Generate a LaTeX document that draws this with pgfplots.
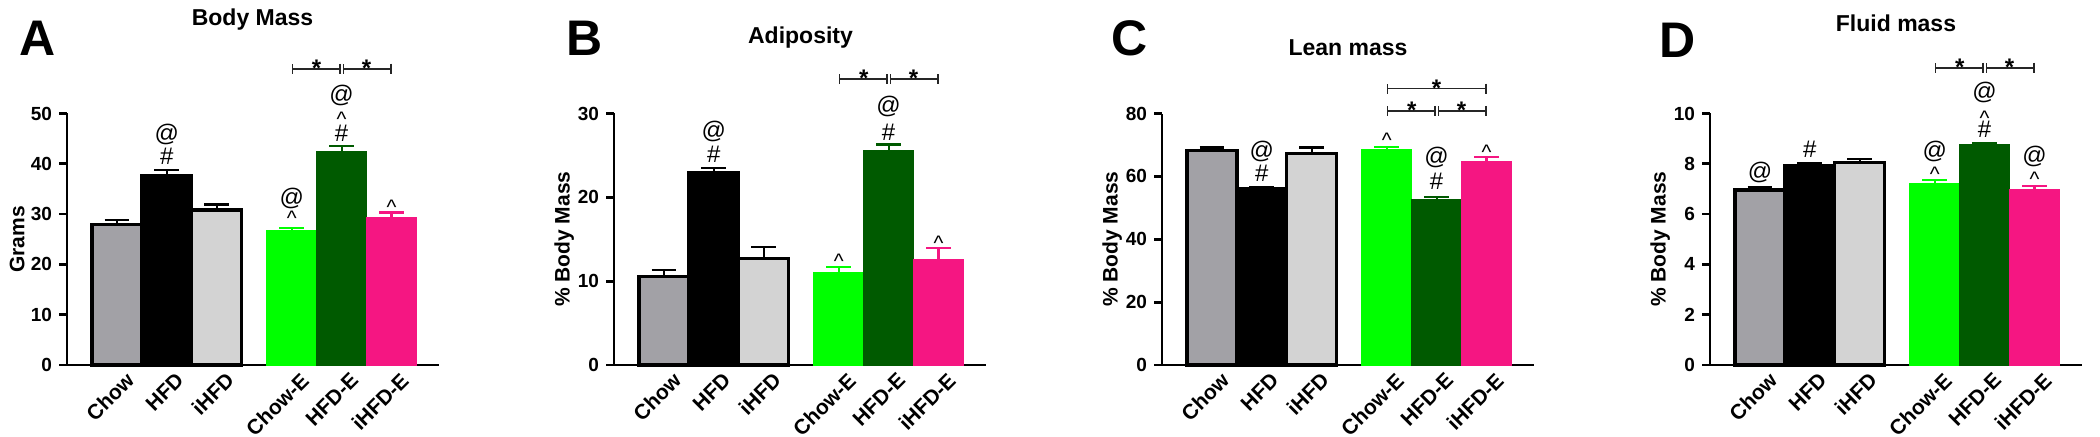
\documentclass[border=0pt]{standalone}
\usepackage{fontspec}
\setmainfont{Liberation Sans}
\usepackage{pgfplots}
\pgfplotsset{compat=1.18}
\usetikzlibrary{arrows.meta}
\definecolor{cgray}{RGB}{162,161,166}
\definecolor{clight}{RGB}{211,211,211}
\definecolor{cgreen}{RGB}{0,255,0}
\definecolor{cdark}{RGB}{0,90,0}
\definecolor{cpink}{RGB}{245,22,130}

\newcommand{\obar}[4]{\addplot[fill=#4, draw=black, line width=1.6pt,
  error bars/.cd, y dir=plus, y explicit,
  error bar style={line width=1.1pt, draw=black},
  error mark options={rotate=90, mark size=6.2pt, line width=1.1pt, draw=black}]
  coordinates {(#1,#2) +- (0,#3)};}
\newcommand{\cbar}[4]{\addplot[fill=#4, draw=#4, line width=0.3pt,
  error bars/.cd, y dir=plus, y explicit,
  error bar style={line width=1.1pt, draw=#4},
  error mark options={rotate=90, mark size=6.2pt, line width=1.1pt, draw=#4}]
  coordinates {(#1,#2) +- (0,#3)};}
\newcommand{\ann}[3]{\node[font=\fontsize{12}{12}\selectfont, inner sep=0pt] at (axis cs:#1,#2) {#3};}
\newcommand{\crt}[2]{\node[font=\fontsize{10.5}{10.5}\selectfont, inner sep=0pt, anchor=north] at (axis cs:#1,#2) {\textasciicircum};}
\newcommand{\sig}[4]{\draw[black!85, line width=0.8pt, {Bar[width=5pt]}-{Bar[width=5pt]}] (axis cs:#1,#3) -- (axis cs:#2,#3);
  \node[anchor=north, inner sep=0pt, yshift=4.6pt, font=\bfseries\fontsize{12}{12}\selectfont] at (axis cs:#4,#3) {*};}

\pgfplotsset{panel/.style={
  scale only axis, width=186pt, height=125.75pt, anchor=south west,
  xmin=-1, xmax=6.45, ymin=0,
  axis x line*=bottom, axis y line*=left,
  axis line style={-, line width=1.4pt},
  xtick={0,1,2,3.5,4.5,5.5},
  xticklabels={Chow,HFD,iHFD,Chow-E,HFD-E,iHFD-E},
  x tick style={draw=none},
  xticklabel style={rotate=45, anchor=north east, font=\bfseries\fontsize{10.5}{10.5}\selectfont, inner sep=1pt, xshift=4.5pt, yshift=-1pt},
  yticklabel style={font=\bfseries\fontsize{9.5}{10}\selectfont},
  /pgf/number format/assume math mode=true,
  y tick style={line width=1.4pt, black},
  tick align=outside, major tick length=4pt,
  ybar, bar width=1, bar shift=0pt,
  clip=false,
  ylabel style={at={(axis description cs:-0.134,0.5)}, anchor=center, font=\bfseries\fontsize{10.5}{10.5}\selectfont},
}}

\begin{document}
\begin{tikzpicture}
\path[use as bounding box] (0,0) rectangle (1050pt,218.5pt);

% ---------- A ----------
\begin{axis}[panel, at={(33.5pt,36pt)}, ymax=50, ytick={0,10,20,30,40,50}, ylabel={Grams}]
\obar{0}{28.0}{0.8}{cgray}
\obar{1}{37.6}{1.2}{black}
\obar{2}{30.8}{1.1}{clight}
\cbar{3.5}{26.8}{0.5}{cgreen}
\cbar{4.5}{42.5}{1.1}{cdark}
\cbar{5.5}{29.3}{1.0}{cpink}
\ann{1}{41.4}{\#}\ann{1}{45.8}{@}
\crt{3.5}{30.7}\ann{3.5}{33.1}{@}
\ann{4.5}{46.1}{\#}\crt{4.5}{50.3}\ann{4.5}{53.6}{@}
\crt{5.5}{32.8}
\sig{3.5}{4.48}{58.9}{4.0}
\sig{4.52}{5.5}{58.9}{5.0}
\end{axis}

% ---------- B ----------
\begin{axis}[panel, at={(307pt,36pt)}, ymax=30, ytick={0,10,20,30}, ylabel={\% Body Mass}]
\obar{0}{10.6}{0.75}{cgray}
\obar{1}{22.95}{0.55}{black}
\obar{2}{12.7}{1.4}{clight}
\cbar{3.5}{11.1}{0.55}{cgreen}
\cbar{4.5}{25.65}{0.65}{cdark}
\cbar{5.5}{12.65}{1.3}{cpink}
\ann{1}{25.1}{\#}\ann{1}{27.8}{@}
\ann{4.5}{27.7}{\#}\ann{4.5}{30.8}{@}
\crt{3.5}{13.3}
\crt{5.5}{15.4}
\sig{3.5}{4.48}{34.1}{4.0}
\sig{4.52}{5.5}{34.1}{5.0}
\end{axis}

% ---------- C ----------
\begin{axis}[panel, at={(581pt,36pt)}, ymax=80, ytick={0,20,40,60,80}, ylabel={\% Body Mass}]
\obar{0}{68.2}{1.0}{cgray}
\obar{1}{56.1}{0.6}{black}
\obar{2}{67.4}{1.8}{clight}
\cbar{3.5}{68.75}{0.65}{cgreen}
\cbar{4.5}{52.8}{0.65}{cdark}
\cbar{5.5}{64.8}{1.4}{cpink}
\ann{1}{61.1}{\#}\ann{1}{68.0}{@}
\ann{4.5}{58.4}{\#}\ann{4.5}{65.9}{@}
\crt{3.5}{73.9}
\crt{5.5}{70.1}
\sig{3.5}{4.48}{80.8}{4.0}
\sig{4.52}{5.5}{80.8}{5.0}
\sig{3.5}{5.5}{87.9}{4.5}
\end{axis}

% ---------- D ----------
\begin{axis}[panel, at={(855pt,36pt)}, ymax=10, ytick={0,2,4,6,8,10}, ylabel={\% Body Mass}]
\obar{0}{6.96}{0.11}{cgray}
\obar{1}{7.93}{0.09}{black}
\obar{2}{8.06}{0.12}{clight}
\cbar{3.5}{7.21}{0.13}{cgreen}
\cbar{4.5}{8.76}{0.07}{cdark}
\cbar{5.5}{7.0}{0.13}{cpink}
\ann{0}{7.66}{@}
\ann{1}{8.57}{\#}
\crt{3.5}{7.90}\ann{3.5}{8.50}{@}
\ann{4.5}{9.36}{\#}\crt{4.5}{10.13}\ann{4.5}{10.82}{@}
\crt{5.5}{7.70}\ann{5.5}{8.30}{@}
\sig{3.5}{4.48}{11.82}{4.0}
\sig{4.52}{5.5}{11.82}{5.0}
\end{axis}

% titles and panel letters
\node[font=\bfseries\fontsize{11.5}{12}\selectfont] at (126.25pt,208.5pt) {Body Mass};
\node[font=\bfseries\fontsize{11.5}{12}\selectfont] at (400.25pt,199.5pt) {Adiposity};
\node[font=\bfseries\fontsize{11.5}{12}\selectfont] at (674pt,194.5pt) {Lean mass};
\node[font=\bfseries\fontsize{11.5}{12}\selectfont] at (948pt,207pt) {Fluid mass};
\node[font=\bfseries\fontsize{25}{25}\selectfont] at (19pt,199.5pt) {A};
\node[font=\bfseries\fontsize{25}{25}\selectfont] at (292.5pt,199.5pt) {B};
\node[font=\bfseries\fontsize{25}{25}\selectfont] at (565pt,199.5pt) {C};
\node[font=\bfseries\fontsize{25}{25}\selectfont] at (839pt,198.5pt) {D};
\end{tikzpicture}
\end{document}
